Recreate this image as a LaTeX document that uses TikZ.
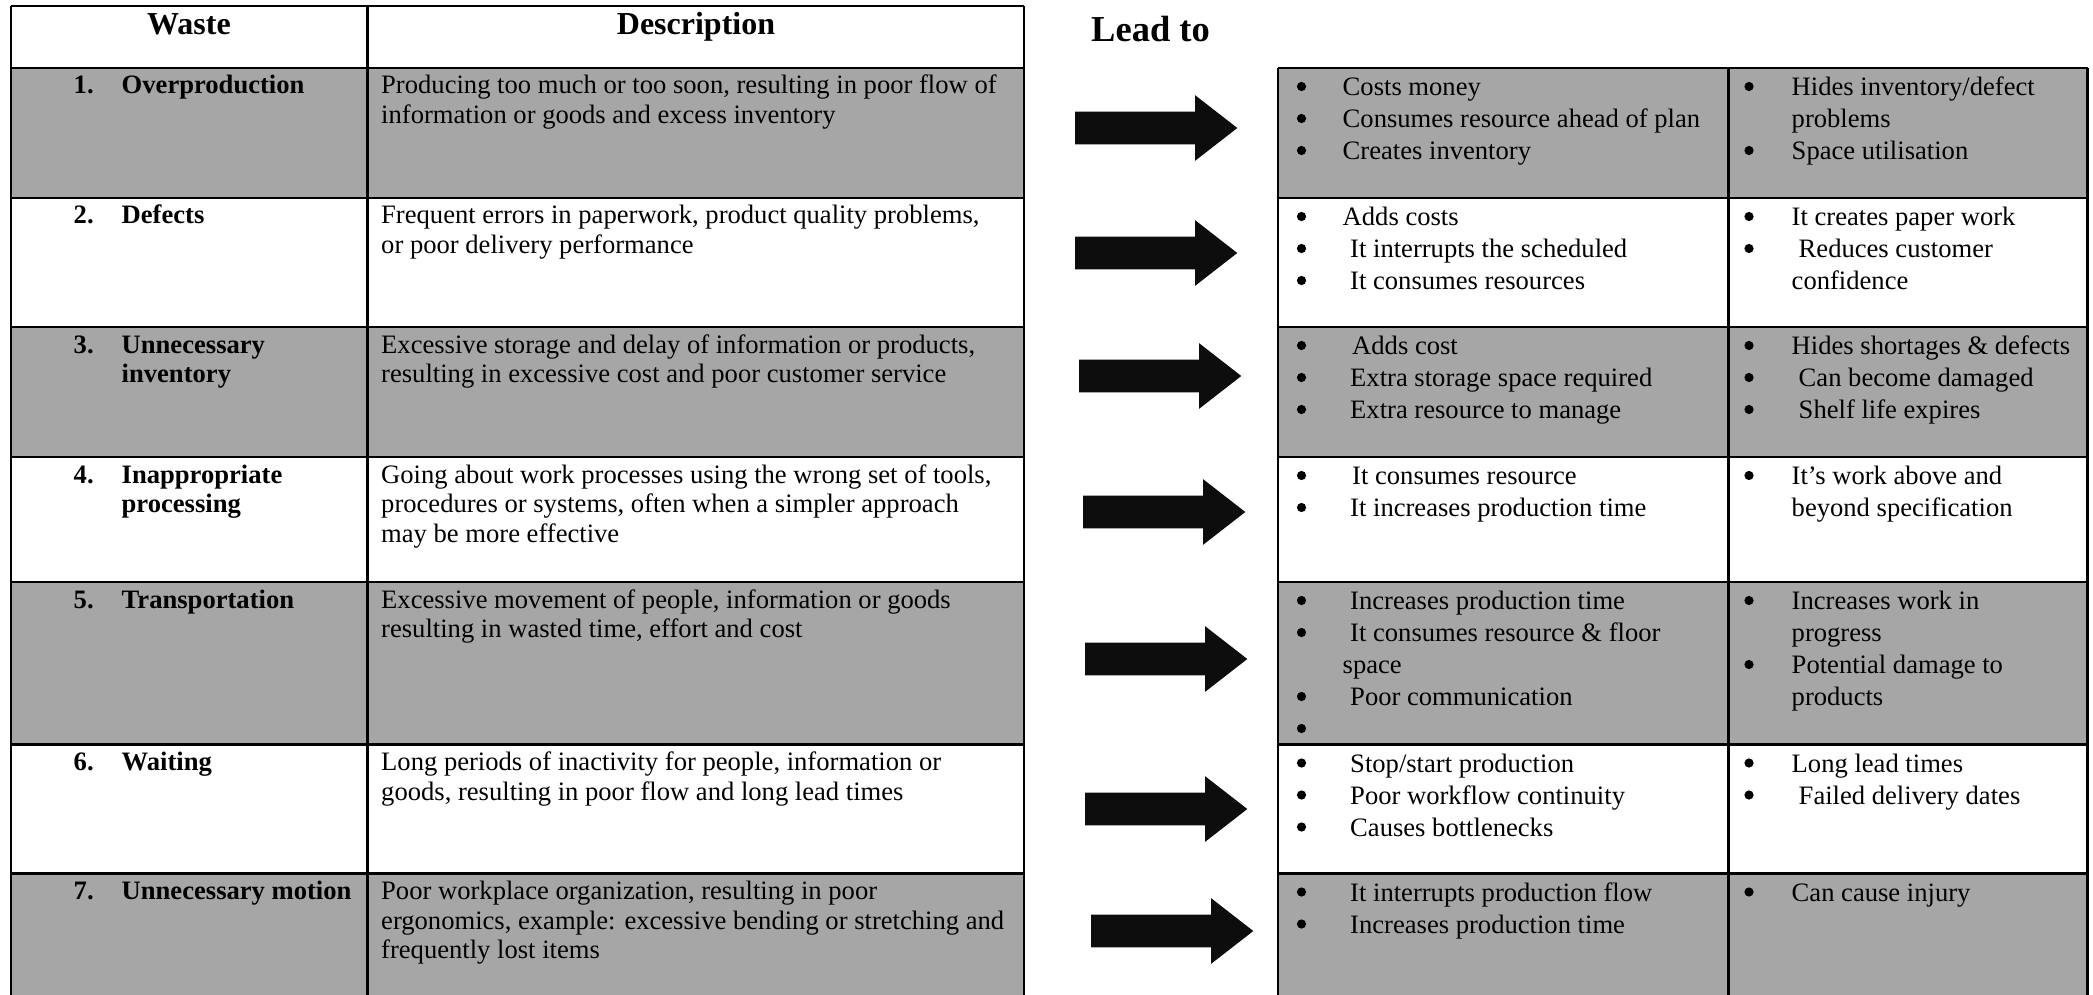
\documentclass[tikz,border=0pt]{standalone}
\usepackage{fontspec}
\setmainfont{Liberation Serif}
\definecolor{cellgray}{RGB}{166,166,166}
\definecolor{arrowink}{RGB}{13,13,13}
% block arrow: left end x, centre line y
\newcommand\blockarrow[2]{%
  \fill[bigarrow] (#1,#2-16.3) -- ++(120,0) -- ++(0,-16.6) -- ++(42.3,32.9)
    -- ++(-42.3,32.9) -- ++(0,-16.6) -- ++(-120,0) -- cycle;}
% bullet mark: centre x, baseline y of the item
\newcommand\bdot[2]{\fill (#1,#2-9) circle[radius=4.6pt];}
% one line of cell text: name, x, baseline y, text
\newcommand\tline[4]{\node[celltext] (#1) at (#2,#3) {#4};}
\begin{document}
\begin{tikzpicture}[x=1pt,y=-1pt,
  celltext/.style={font=\fontsize{26.6}{29.7}\selectfont, inner sep=0pt, anchor=base west},
  wastename/.style={celltext, font=\fontsize{26.6}{29.7}\selectfont\bfseries},
  colhead/.style={font=\fontsize{32}{36}\selectfont\bfseries, inner sep=0pt, anchor=base},
  rule/.style={line width=2.2pt},
  shaded/.style={fill=cellgray},
  bigarrow/.style={fill=arrowink}]
\useasboundingbox (0,0) rectangle (2093,995);
\clip (0,0) rectangle (2093,995);

% ---------- shaded rows ----------
\foreach \a/\b in {68/198, 327/457, 582/744.5, 873.5/1000}{
  \fill[shaded] (11,\a) rectangle (1024,\b);
  \fill[shaded] (1278,\a) rectangle (2087.5,\b);
}

% ---------- grid of the waste table ----------
\draw[rule] (11,6) -- (1024,6);
\foreach \y in {68,198,327,457,582,744.5,873.5}{
  \draw[rule] (11,\y) -- (1024,\y);
  \draw[rule] (1278,\y) -- (2087.5,\y);
}
\foreach \x in {11,367.5,1024}{ \draw[rule] (\x,6) -- (\x,1000); }
\foreach \x in {1278,1728.5,2087.5}{ \draw[rule] (\x,68) -- (\x,1000); }

% ---------- headings ----------
\node[colhead] (hwaste) at (189,35) {Waste};
\node[colhead] (hdesc) at (696,35) {Description};
\node[font=\fontsize{36.5}{40}\selectfont\bfseries, inner sep=0pt, anchor=base west] (hlead) at (1091,41.5) {Lead to};

% ---------- waste names ----------
\node[wastename] (n1) at (73.5,94) {1.};    \node[wastename] (w1) at (121.5,94) {Overproduction};
\node[wastename] (n2) at (73.5,224) {2.};   \node[wastename] (w2) at (121.5,224) {Defects};
\node[wastename] (n3) at (73.5,353) {3.};   \node[wastename] (w3a) at (121.5,353) {Unnecessary};
\node[wastename] (w3b) at (121.5,382.7) {inventory};
\node[wastename] (n4) at (73.5,483) {4.};   \node[wastename] (w4a) at (121.5,483) {Inappropriate};
\node[wastename] (w4b) at (121.5,512.7) {processing};
\node[wastename] (n5) at (73.5,608) {5.};   \node[wastename] (w5) at (121.5,608) {Transportation};
\node[wastename] (n6) at (73.5,770.5) {6.}; \node[wastename] (w6) at (121.5,770.5) {Waiting};
\node[wastename] (n7) at (73.5,899.5) {7.}; \node[wastename] (w7) at (121.5,899.5) {Unnecessary motion};

% ---------- descriptions ----------
\tline{d1a}{381}{94}{Producing too much or too soon, resulting in poor flow of}
\tline{d1b}{381}{123.7}{information or goods and excess inventory}
\tline{d2a}{381}{224}{Frequent errors in paperwork, product quality problems,}
\tline{d2b}{381}{253.7}{or poor delivery performance}
\tline{d3a}{381}{353}{Excessive storage and delay of information or products,}
\tline{d3b}{381}{382.7}{resulting in excessive cost and poor customer service}
\tline{d4a}{381}{483}{Going about work processes using the wrong set of tools,}
\tline{d4b}{381}{512.7}{procedures or systems, often when a simpler approach}
\tline{d4c}{381}{542.4}{may be more effective}
\tline{d5a}{381}{608}{Excessive movement of people, information or goods}
\tline{d5b}{381}{637.7}{resulting in wasted time, effort and cost}
\tline{d6a}{381}{770.5}{Long periods of inactivity for people, information or}
\tline{d6b}{381}{800.2}{goods, resulting in poor flow and long lead times}
\tline{d7a}{381}{899.5}{Poor workplace organization, resulting in poor}
\tline{d7b}{381}{929.2}{ergonomics, example: excessive bending or stretching and}
\tline{d7c}{381}{958.9}{frequently lost items}

% ---------- arrows ----------
\blockarrow{1075}{128}
\blockarrow{1075}{253}
\blockarrow{1079}{376}
\blockarrow{1083}{512}
\blockarrow{1085}{659}
\blockarrow{1085}{809}
\blockarrow{1091}{931}

% ---------- consequences, row 1 ----------
\bdot{1301.5}{95.5}  \tline{c1a}{1342.5}{95.5}{Costs money}
\bdot{1301.5}{127.5} \tline{c1b}{1342.5}{127.5}{Consumes resource ahead of plan}
\bdot{1301.5}{159.5} \tline{c1c}{1342.5}{159.5}{Creates inventory}
\bdot{1749}{95.5}    \tline{e1a}{1791.5}{95.5}{Hides inventory/defect}
                     \tline{e1b}{1791.5}{127.5}{problems}
\bdot{1749}{159.5}   \tline{e1c}{1791.5}{159.5}{Space utilisation}

% ---------- row 2 ----------
\bdot{1301.5}{225.5} \tline{c2a}{1342.5}{225.5}{Adds costs}
\bdot{1301.5}{257.5} \tline{c2b}{1350}{257.5}{It interrupts the scheduled}
\bdot{1301.5}{289.5} \tline{c2c}{1350}{289.5}{It consumes resources}
\bdot{1749}{225.5}   \tline{e2a}{1791.5}{225.5}{It creates paper work}
\bdot{1749}{257.5}   \tline{e2b}{1798.5}{257.5}{Reduces customer}
                     \tline{e2c}{1791.5}{289.5}{confidence}

% ---------- row 3 ----------
\bdot{1301.5}{354.5} \tline{c3a}{1352}{354.5}{Adds cost}
\bdot{1301.5}{386.5} \tline{c3b}{1350}{386.5}{Extra storage space required}
\bdot{1301.5}{418.5} \tline{c3c}{1350}{418.5}{Extra resource to manage}
\bdot{1749}{354.5}   \tline{e3a}{1791.5}{354.5}{Hides shortages \& defects}
\bdot{1749}{386.5}   \tline{e3b}{1798.5}{386.5}{Can become damaged}
\bdot{1749}{418.5}   \tline{e3c}{1798.5}{418.5}{Shelf life expires}

% ---------- row 4 ----------
\bdot{1301.5}{484.5} \tline{c4a}{1352}{484.5}{It consumes resource}
\bdot{1301.5}{516.5} \tline{c4b}{1350}{516.5}{It increases production time}
\bdot{1749}{484.5}   \tline{e4a}{1791.5}{484.5}{It’s work above and}
                     \tline{e4b}{1791.5}{516.5}{beyond specification}

% ---------- row 5 ----------
\bdot{1301.5}{609.5} \tline{c5a}{1350}{609.5}{Increases production time}
\bdot{1301.5}{641.5} \tline{c5b}{1350}{641.5}{It consumes resource \& floor}
                     \tline{c5c}{1342.5}{673.5}{space}
\bdot{1301.5}{705.5} \tline{c5d}{1350}{705.5}{Poor communication}
\bdot{1301.5}{737.5}
\bdot{1749}{609.5}   \tline{e5a}{1791.5}{609.5}{Increases work in}
                     \tline{e5b}{1791.5}{641.5}{progress}
\bdot{1749}{673.5}   \tline{e5c}{1791.5}{673.5}{Potential damage to}
                     \tline{e5d}{1791.5}{705.5}{products}

% ---------- row 6 ----------
\bdot{1301.5}{772}   \tline{c6a}{1350}{772}{Stop/start production}
\bdot{1301.5}{804}   \tline{c6b}{1350}{804}{Poor workflow continuity}
\bdot{1301.5}{836}   \tline{c6c}{1350}{836}{Causes bottlenecks}
\bdot{1749}{772}     \tline{e6a}{1791.5}{772}{Long lead times}
\bdot{1749}{804}     \tline{e6b}{1798.5}{804}{Failed delivery dates}

% ---------- row 7 ----------
\bdot{1301.5}{901}   \tline{c7a}{1350}{901}{It interrupts production flow}
\bdot{1301.5}{933}   \tline{c7b}{1350}{933}{Increases production time}
\bdot{1749}{901}     \tline{e7a}{1791.5}{901}{Can cause injury}
\end{tikzpicture}
\end{document}
